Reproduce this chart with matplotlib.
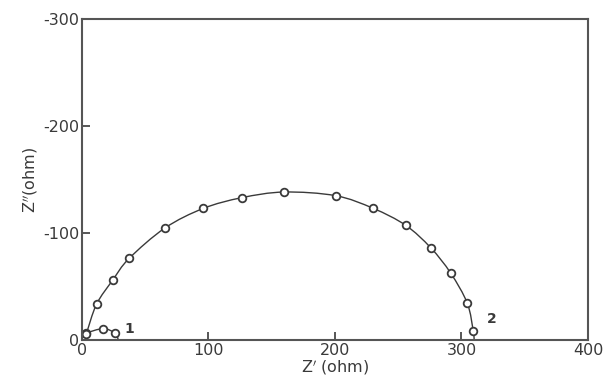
import matplotlib
matplotlib.use("Agg")
import matplotlib.pyplot as plt
from matplotlib.path import Path
from matplotlib.patches import PathPatch

plt.rcParams['axes.unicode_minus'] = False

# curve 1 (small arc near origin)
z1_re = [3.2, 16.8, 26.3]
z1_im = [-6.3, -10.6, -6.3]
line1_re = [0.5, 3.2, 16.8, 26.3, 28.7]
line1_im = [-3.0, -6.3, -10.6, -6.3, 0.0]

# curve 2 (large semicircle)
z2_re = [3.2, 11.5, 24.3, 37.2, 65.6, 95.9, 126.2, 159.7, 200.5, 230.3,
         255.9, 275.6, 291.4, 304.6, 309.3]
z2_im = [-5.6, -33.5, -56.0, -76.2, -104.7, -123.0, -133.0, -138.3, -134.9,
         -123.0, -107.2, -86.3, -62.6, -34.3, -8.1]
line2_re = [0.5] + z2_re + [310.0]
line2_im = [-3.0] + z2_im + [0.0]

xticks = [0, 100, 200, 300, 400]
yticks = [0, -100, -200, -300]

ink = '#3a3a3a'


def smooth_path(xs, ys):
    # Catmull-Rom through the points, drawn as cubic Bezier segments
    pts = list(zip(xs, ys))
    verts = [pts[0]]
    codes = [Path.MOVETO]
    n = len(pts)
    for i in range(n - 1):
        p0 = pts[max(i - 1, 0)]
        p1 = pts[i]
        p2 = pts[i + 1]
        p3 = pts[min(i + 2, n - 1)]
        c1 = (p1[0] + (p2[0] - p0[0]) / 6, p1[1] + (p2[1] - p0[1]) / 6)
        c2 = (p2[0] - (p3[0] - p1[0]) / 6, p2[1] - (p3[1] - p1[1]) / 6)
        verts += [c1, c2, p2]
        codes += [Path.CURVE4] * 3
    return Path(verts, codes)


fig = plt.figure(figsize=(6.06, 3.81), dpi=100)
ax = fig.add_axes([0.1353, 0.1076, 0.8350, 0.8424])

# fitted lines, then open circle markers
for lx, ly in [(line1_re, line1_im), (line2_re, line2_im)]:
    ax.add_patch(PathPatch(smooth_path(lx, ly), fill=False, ec=ink, lw=1.0))
ax.plot(z1_re, z1_im, 'o', ms=5.5, mfc='white', mec=ink, mew=1.3)
ax.plot(z2_re, z2_im, 'o', ms=5.5, mfc='white', mec=ink, mew=1.3)

ax.text(37.4, -10.3, '1', fontsize=10, fontweight='bold', color=ink,
        ha='center', va='center')
ax.text(323.9, -19.3, '2', fontsize=10, fontweight='bold', color=ink,
        ha='center', va='center')

ax.set_xlim(0, 400)
ax.set_ylim(0, -300)
ax.set_xticks(xticks)
ax.set_yticks(yticks)
ax.tick_params(direction='in', length=6, width=1.2, color=ink,
               labelsize=11.5, labelcolor=ink, pad=2)
for s in ax.spines.values():
    s.set_color('#555555')
    s.set_linewidth(1.5)

ax.set_xlabel("Z$'$ (ohm)", fontsize=11.5, color=ink, labelpad=0)
ax.set_ylabel("Z$''$(ohm)", fontsize=11.5, color=ink, labelpad=2)

fig.savefig('out.png', dpi=100)
